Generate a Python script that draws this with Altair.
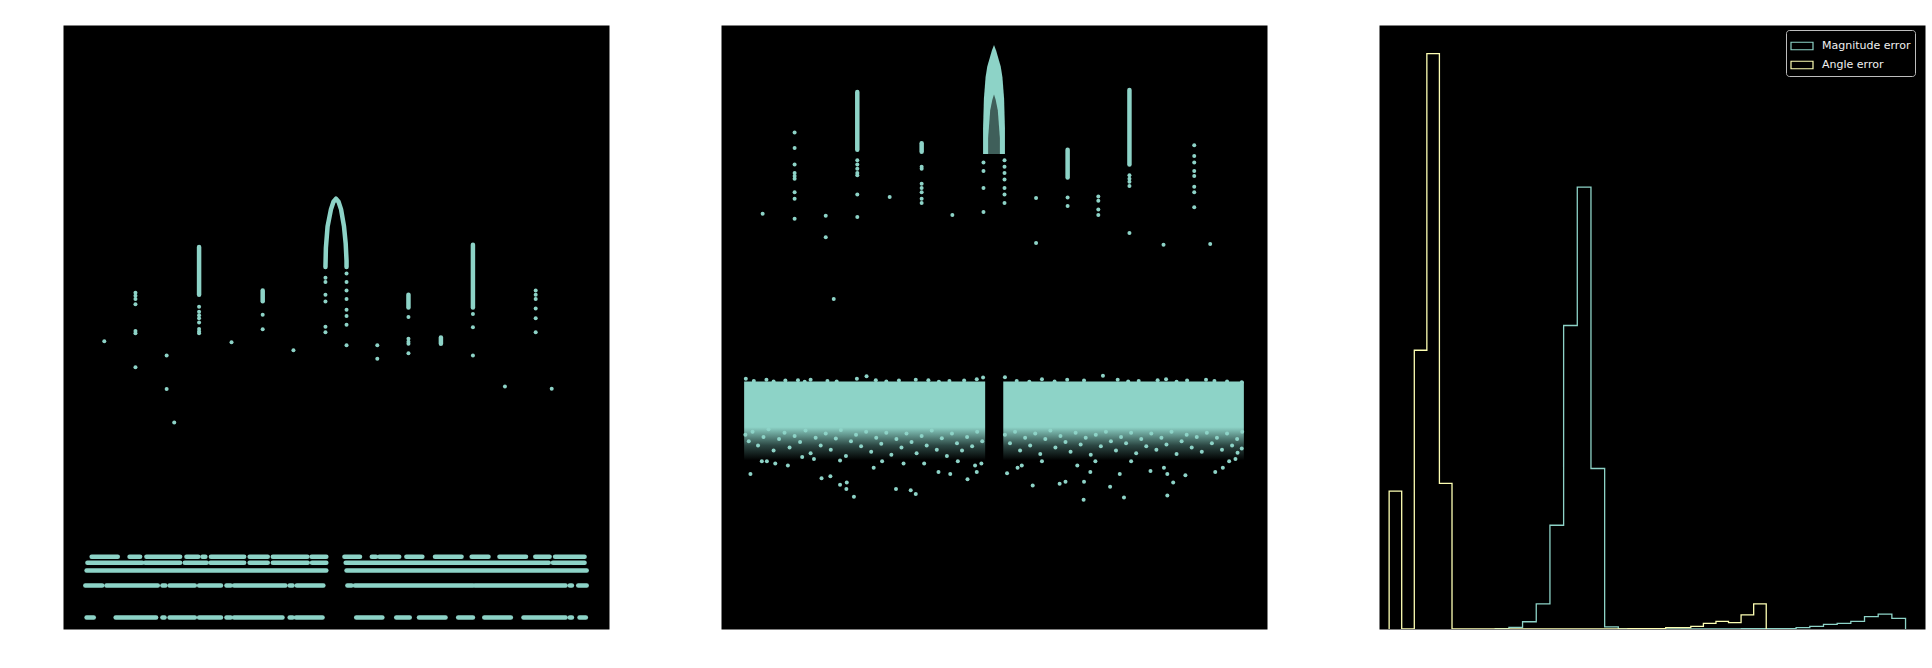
import altair as alt
import pandas as pd

CYAN = "#8dd3c7"
YELLOW = "#feffb3"

# ---------------- Panel 1 : sparse scatter ----------------
p1_x = [245,
        319, 319, 319, 319, 319, 319, 319,
        393, 393, 411,
        470, 470, 470, 470, 470, 470, 470, 470,
        547, 621, 621, 694,
        770, 770, 770, 770, 770, 770,
        820, 820, 820, 820, 820, 820, 820, 820,
        893, 893,
        967, 967, 967, 967, 967,
        1120, 1120, 1120, 1196,
        1269, 1269, 1269, 1269, 1269, 1269, 1307]
p1_y = [674,
        788, 781, 773, 761, 698, 693, 613,
        641, 562, 484,
        755, 743, 735, 728, 718, 703, 697, 693,
        672, 736, 702, 653,
        823, 813, 783, 767, 708, 695,
        833, 813, 793, 773, 748, 733, 713, 665,
        665, 633,
        731, 680, 673, 668, 646,
        738, 707, 641, 568,
        793, 783, 773, 751, 728, 695, 563]

# dense vertical clusters (x, y_low, y_high)
p1_col_x = [470, 621, 967, 1044, 1120]
p1_col_lo = [783, 768, 753, 668, 753]
p1_col_hi = [895, 793, 783, 683, 900]

# arch in panel 1
p1_arch_x = [770, 771, 775, 783, 789, 795, 801, 807, 814, 818, 820, 820]
p1_arch_y = [848, 893, 943, 983, 1001, 1008, 1001, 983, 943, 903, 863, 848]

# horizontal rows of dots at the bottom (row level, start, end)
p1_row_levels = [169, 155, 137, 102, 27]
p1_row_segments = [
    [(215, 277), (305, 330), (345, 425), (440, 468), (478, 485), (498, 577), (590, 633),
     (645, 727), (737, 772), (815, 852), (880, 890), (898, 945), (962, 1000), (1030, 1093),
     (1117, 1157), (1183, 1246), (1268, 1302), (1315, 1385)],
    [(205, 335), (342, 425), (436, 488), (497, 577), (590, 633), (645, 728), (738, 772),
     (818, 1300), (1310, 1385)],
    [(203, 772), (820, 1390)],
    [(200, 240), (250, 372), (383, 390), (400, 460), (470, 522), (535, 545), (553, 675),
     (685, 692), (702, 765), (822, 832), (840, 1120), (1125, 1340), (1350, 1355), (1370, 1390)],
    [(203, 220), (272, 368), (383, 388), (400, 460), (470, 522), (535, 545), (553, 668),
     (685, 692), (700, 763), (843, 905), (938, 970), (992, 1055), (1085, 1120), (1147, 1210),
     (1240, 1340), (1350, 1355), (1373, 1388)],
]

# ---------------- Panel 2 : dense band ----------------
p2_x = [236,
        312, 312, 312, 312, 312, 312, 312, 312, 312,
        386, 386, 405,
        461, 461, 461, 461, 461, 461, 461,
        538,
        614, 614, 614, 614, 614, 614, 614,
        687,
        761, 761, 761, 761,
        811, 811, 811, 811, 811, 811, 811,
        886, 886, 961, 961,
        1034, 1034, 1034, 1034,
        1108, 1108, 1108, 1108, 1108,
        1189,
        1262, 1262, 1262, 1262, 1262, 1262, 1262, 1262,
        1300]
p2_y = [973,
        1163, 1127, 1088, 1068, 1061, 1055, 1023, 1008, 961,
        968, 918, 773,
        1098, 1088, 1078, 1068, 1063, 1018, 965,
        1012,
        1083, 1078, 1043, 1033, 1023, 1008, 998,
        970,
        1093, 1073, 1033, 977,
        1098, 1083, 1068, 1053, 1033, 1018, 998,
        1010, 904, 1011, 991,
        1013, 1003, 983, 970,
        1063, 1055, 1048, 1038, 928,
        900,
        1133, 1108, 1093, 1073, 1061, 1036, 1023, 988,
        902]

p2_col_x = [461, 614, 961, 1108]
p2_col_lo = [1123, 1118, 1058, 1088]
p2_col_hi = [1258, 1138, 1123, 1263]

# filled arch: outer outline and inner hollow (x, top level), both down to the base level
arch_base = 1113
p2_arch_x = [760, 762, 766, 770, 775, 781, 786, 791, 797, 802, 806, 810, 812]
p2_arch_top = [1173, 1243, 1293, 1318, 1335, 1355, 1368, 1355, 1335, 1318, 1293, 1243, 1173]
p2_hole_x = [772, 777, 782, 786, 790, 795, 800]
p2_hole_top = [1150, 1215, 1240, 1252, 1240, 1215, 1150]

# band: two blocks (start, end), solid core and fading fringe levels
p2_band_x0 = [192, 808]
p2_band_x1 = [765, 1380]
band_core = (473, 580)
band_fringe = (395, 473)

# ragged top edge of the band
p2_top_x = [196, 215, 245, 262, 290, 320, 336, 350, 390, 412, 460, 483, 505, 530, 560, 600,
            630, 655, 680, 715, 745, 760, 812, 840, 870, 900, 930, 960, 1000, 1045, 1080,
            1105, 1130, 1175, 1195, 1220, 1245, 1290, 1310, 1340, 1375]
p2_top_y = [586, 581, 584, 580, 582, 583, 579, 584, 581, 580, 586, 592, 583, 580, 582, 584,
            583, 579, 581, 582, 585, 589, 590, 581, 579, 585, 580, 584, 582, 593, 584,
            580, 581, 583, 585, 579, 582, 584, 581, 580, 578]

# speckled dots in the lower fringe of the band
p2_mid_x = [195, 203, 212, 225, 238, 250, 262, 275, 288, 300, 312, 325, 338, 350, 362, 374,
            386, 398, 410, 422, 434, 446, 458, 470, 482, 494, 506, 518, 530, 542, 554, 566,
            578, 590, 602, 614, 626, 638, 650, 662, 674, 686, 698, 710, 722, 734, 746, 758,
            812, 824, 836, 848, 860, 872, 884, 896, 908, 920, 932, 944, 956, 968, 980, 992,
            1004, 1016, 1028, 1040, 1052, 1064, 1076, 1088, 1100, 1112, 1124, 1136, 1148,
            1160, 1172, 1184, 1196, 1208, 1220, 1232, 1244, 1256, 1268, 1280, 1292, 1304,
            1316, 1328, 1340, 1352, 1364, 1376]
p2_mid_y = [455, 440, 462, 430, 450, 468, 418, 445, 460, 425, 452, 438, 465, 412, 448, 430,
            458, 420, 446, 466, 405, 440, 455, 428, 462, 415, 448, 434, 460, 408, 445, 425,
            458, 438, 412, 452, 430, 465, 420, 447, 405, 458, 435, 418, 450, 428, 462, 440,
            455, 435, 462, 418, 448, 430, 458, 410, 445, 465, 425, 452, 438, 415, 460, 432,
            448, 408, 455, 428, 462, 440, 418, 450, 435, 460, 412, 445, 428,
            458, 420, 448, 432, 462, 410, 440, 455, 425, 450, 415, 460, 435,
            448, 420, 458, 430, 445, 462]

# outliers below the band
p2_low_x = [207, 234, 246, 266, 296, 330, 358, 376, 397, 420, 420, 436, 453, 435, 500, 520,
            553, 571, 588, 600, 620, 654, 682, 700, 723, 741, 745, 756, 817, 842, 852, 878,
            900, 942, 956, 984, 1000, 999, 1015, 1027, 1062, 1085, 1095, 1112, 1158, 1190,
            1198, 1198, 1212, 1241, 1312, 1330, 1345, 1360, 1375, 1365]
p2_low_y = [363, 393, 393, 388, 383, 403, 398, 353, 358, 395, 338, 343, 310, 328, 378, 393,
            328, 388, 325, 316, 388, 368, 363, 393, 351, 383, 368, 388, 365, 378, 383, 336,
            393, 340, 345, 383, 345, 303, 368, 393, 333, 363, 308, 393, 370, 378,
            363, 313, 343, 360, 368, 378, 393, 398, 423, 413]

# ---------------- Panel 3 : step histograms ----------------
mag_edges = [438, 473.1, 508.1, 543.2, 578.3, 613.4, 648.4, 683.5, 718.6, 753.6, 788.7,
             823.8, 858.8, 893.9, 929, 964.1, 999.1, 1034.2, 1069.3, 1104.3, 1139.4,
             1174.5, 1209.5, 1244.6, 1279.7, 1314.8, 1349.8, 1384.9, 1420, 1455, 1490.1]
mag_counts = [1, 4, 17, 59, 243, 711, 1035, 376, 5, 0,
              0, 0, 0, 0, 0, 0, 0, 0, 1, 1,
              1, 1, 3, 6, 11, 13, 18, 29, 35, 25]
ang_edges = [166, 198.2, 230.5, 262.7, 294.9, 327.2, 359.4, 391.6, 423.8, 456.1, 488.3,
             520.5, 552.8, 585, 617.2, 649.5, 681.7, 713.9, 746.1, 778.4, 810.6,
             842.8, 875.1, 907.3, 939.5, 971.8, 1004, 1036.2, 1068.4, 1100.7, 1132.9]
ang_counts = [323, 0, 653, 1348, 341, 0, 0, 0, 0, 0,
              0, 0, 0, 0, 0, 0, 0, 0, 0, 1,
              1, 1, 3, 3, 6, 13, 18, 15, 33, 59]
series_names = ["Magnitude error", "Angle error"]

W, H = 546, 604
GAP = 110
DOT = 16
LW = 4.5

# ---------- build tables ----------
def pts(xs, ys):
    return pd.DataFrame({"x": xs, "y": ys})

def cols(xs, lo, hi):
    return pd.DataFrame({"x": xs, "y": lo, "y2": hi})

rows = []
for lvl, segs in zip(p1_row_levels, p1_row_segments):
    for a, b in segs:
        rows.append({"x": a, "x2": b, "y": lvl})
p1_rows = pd.DataFrame(rows)

def step_table(edges, counts, name):
    recs = [{"x": edges[0], "y": 0, "i": 0, "s": name}]
    for k, c in enumerate(counts):
        recs.append({"x": edges[k], "y": c, "i": k + 1, "s": name})
    recs.append({"x": edges[-1], "y": 0, "i": len(counts) + 1, "s": name})
    return pd.DataFrame(recs)

hist = pd.concat([step_table(mag_edges, mag_counts, series_names[0]),
                  step_table(ang_edges, ang_counts, series_names[1])])

# ---------- panels ----------
def scales(x0, x1):
    xs = alt.Scale(domain=[x0, x1], nice=False, zero=False)
    ys = alt.Scale(domain=[0, 1415], nice=False, zero=False)
    return xs, ys

xs1, ys1 = scales(147, 1443)
dots1 = alt.Chart(pts(p1_x, p1_y)).mark_circle(size=DOT, color=CYAN, opacity=1).encode(
    x=alt.X("x:Q", scale=xs1, axis=None), y=alt.Y("y:Q", scale=ys1, axis=None))
colm1 = alt.Chart(cols(p1_col_x, p1_col_lo, p1_col_hi)).mark_rule(
    color=CYAN, strokeWidth=LW, strokeCap="round").encode(
    x=alt.X("x:Q", scale=xs1, axis=None), y=alt.Y("y:Q", scale=ys1, axis=None), y2="y2:Q")
arch1 = alt.Chart(pd.DataFrame({"x": p1_arch_x, "y": p1_arch_y, "i": range(len(p1_arch_x))})).mark_line(
    color=CYAN, strokeWidth=LW, strokeCap="round", strokeJoin="round").encode(
    x=alt.X("x:Q", scale=xs1, axis=None), y=alt.Y("y:Q", scale=ys1, axis=None), order="i:Q")
rows1 = alt.Chart(p1_rows).mark_rule(color=CYAN, strokeWidth=LW, strokeCap="round").encode(
    x=alt.X("x:Q", scale=xs1, axis=None), x2="x2:Q", y=alt.Y("y:Q", scale=ys1, axis=None))
panel1 = alt.layer(rows1, colm1, arch1, dots1).properties(width=W, height=H)

xs2, ys2 = scales(137, 1435)
band_df = pd.DataFrame({"x": p2_band_x0, "x2": p2_band_x1,
                        "c0": [band_core[0]] * 2, "c1": [band_core[1]] * 2,
                        "f0": [band_fringe[0]] * 2, "f1": [band_fringe[1]] * 2})
core = alt.Chart(band_df).mark_rect(color=CYAN).encode(
    x=alt.X("x:Q", scale=xs2, axis=None), x2="x2:Q",
    y=alt.Y("c0:Q", scale=ys2, axis=None), y2="c1:Q")
fade = alt.Gradient(gradient="linear", x1=0, x2=0, y1=0, y2=1,
                    stops=[alt.GradientStop(color=CYAN, offset=0),
                           alt.GradientStop(color="#2c4743", offset=0.55),
                           alt.GradientStop(color="#000000", offset=1)])
fringe = alt.Chart(band_df).mark_rect(color=fade).encode(
    x=alt.X("x:Q", scale=xs2, axis=None), x2="x2:Q",
    y=alt.Y("f0:Q", scale=ys2, axis=None), y2="f1:Q")
dots2 = alt.Chart(pts(p2_x + p2_top_x + p2_mid_x + p2_low_x,
                      p2_y + p2_top_y + p2_mid_y + p2_low_y)).mark_circle(
    size=DOT, color=CYAN, opacity=1).encode(
    x=alt.X("x:Q", scale=xs2, axis=None), y=alt.Y("y:Q", scale=ys2, axis=None))
colm2 = alt.Chart(cols(p2_col_x, p2_col_lo, p2_col_hi)).mark_rule(
    color=CYAN, strokeWidth=LW, strokeCap="round").encode(
    x=alt.X("x:Q", scale=xs2, axis=None), y=alt.Y("y:Q", scale=ys2, axis=None), y2="y2:Q")
arch2 = alt.Chart(pd.DataFrame({"x": p2_arch_x, "t": p2_arch_top,
                                "b": [arch_base] * len(p2_arch_x)})).mark_area(
    color=CYAN, opacity=1).encode(
    x=alt.X("x:Q", scale=xs2, axis=None), y=alt.Y("t:Q", scale=ys2, axis=None), y2="b:Q")
hole2 = alt.Chart(pd.DataFrame({"x": p2_hole_x, "t": p2_hole_top,
                                "b": [arch_base] * len(p2_hole_x)})).mark_area(
    color="black", opacity=0.55).encode(
    x=alt.X("x:Q", scale=xs2, axis=None), y=alt.Y("t:Q", scale=ys2, axis=None), y2="b:Q")
panel2 = alt.layer(fringe, core, arch2, hole2, colm2, dots2).properties(width=W, height=H)

xs3, ys3 = scales(140, 1540)
steps = alt.Chart(hist).mark_line(interpolate="step-after", strokeWidth=1.3, clip=True).encode(
    x=alt.X("x:Q", scale=xs3, axis=None),
    y=alt.Y("y:Q", scale=ys3, axis=None),
    order="i:Q",
    detail="s:N",
    color=alt.Color("s:N", scale=alt.Scale(domain=series_names, range=[CYAN, YELLOW]),
                    legend=alt.Legend(title=None, orient="none",
                                      legendX=2 * (W + GAP) + 411, legendY=5,
                                      symbolType="M-1,-0.34H1V0.34H-1Z", symbolSize=484,
                                      symbolFillColor="black", symbolStrokeWidth=1.2,
                                      labelColor="#f0f0f0", labelFont="DejaVu Sans",
                                      labelFontSize=11, labelOffset=8,
                                      fillColor="black", strokeColor="#bdbdbd",
                                      cornerRadius=3, padding=4, rowPadding=-5)),
)
panel3 = steps.properties(width=W, height=H)

chart = alt.hconcat(panel1, panel2, panel3, spacing=GAP).properties(
    padding={"left": 62, "top": 24, "right": 0, "bottom": 0},
    background="white",
).configure_view(fill="black", stroke="transparent")

chart.save("out.html", embed_options={"renderer": "svg", "actions": False})
